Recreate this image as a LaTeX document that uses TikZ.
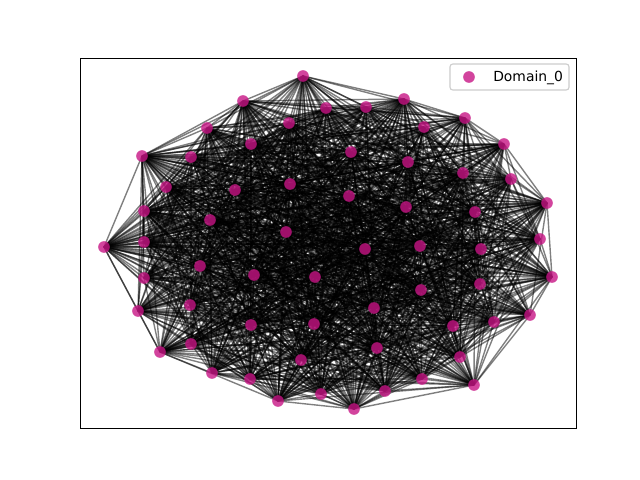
\documentclass[tikz,border=0pt]{standalone}
\usepackage{fontspec}
\setmainfont{DejaVu Sans}
\pgfdeclarelayer{bg}
\pgfsetlayers{bg,main}
\definecolor{nodecol}{HTML}{C71585}
\definecolor{legframe}{HTML}{CCCCCC}
\begin{document}
\begin{tikzpicture}[x=0.72pt,y=-0.72pt,
  dotnode/.style={circle,fill=nodecol,fill opacity=0.8,draw=none,inner sep=0pt,minimum size=8.4pt},
  edgeline/.style={draw=black,draw opacity=0.5,line width=1pt},
  frame/.style={draw=black,line width=0.6pt},
  legbox/.style={draw=legframe,fill=white,fill opacity=0.8,rounded corners=2pt,line width=0.8pt,inner sep=0pt,minimum width=85.7pt,minimum height=18.7pt},
  legtext/.style={anchor=west,inner sep=0pt,font=\fontsize{10}{12}\selectfont}]
\useasboundingbox (0,0) rectangle (640,480);
\foreach [count=\i] \x/\y in {
303/76, 243/101, 326/108, 366/107, 404/99, 289/123, 207/128, 424/127, 465/118, 251/144,
504/144, 142/156, 191/157, 351/152, 408/162, 463/173, 511/179, 166/187, 290/184, 235/190,
349/196, 547/203, 144/211, 406/207, 475/212, 210/220, 286/232, 540/239, 104/247, 144/242,
365/249, 420/246, 481/249, 200/266, 254/275, 315/277, 552/277, 144/278, 421/290, 480/284,
190/305, 374/308, 138/311, 530/315, 494/322, 251/325, 314/324, 453/326, 191/344, 160/352,
377/348, 460/357, 301/360, 212/373, 250/379, 422/379, 278/401, 321/394, 354/409, 385/391,
474/385}{
  \node[dotnode] (n\i) at (\x,\y) {};
}
% hull pairs (smaller index first) are always joined
\foreach \a/\b in {12/29, 2/12, 1/2, 1/5, 5/9, 9/11, 11/22, 22/37, 37/44, 44/61, 59/61, 57/59, 50/57, 43/50, 29/43}{
  \expandafter\gdef\csname hullpair-\a-\b\endcsname{}
}
\begin{pgfonlayer}{bg}
\pgfmathsetseed{12345}
\foreach \i in {1,...,60}{
  \pgfmathtruncatemacro\s{\i+1}
  \foreach \j in {\s,...,61}{
    \pgfmathtruncatemacro\r{rnd<0.72 ? 1 : 0}
    \ifcsname hullpair-\i-\j\endcsname \def\r{1}\fi
    \ifnum\r=1 \draw[edgeline] (n\i.center) -- (n\j.center);\fi
  }
}
\end{pgfonlayer}
\draw[frame] (80,58) rectangle (576,428);
\node[legbox] (legend) at (509.5,77) {};
\node[dotnode] (legdot) at (469,77) {};
\node[legtext] (legtxt) at (493,77.5) {Domain\_0};
\end{tikzpicture}
\end{document}
